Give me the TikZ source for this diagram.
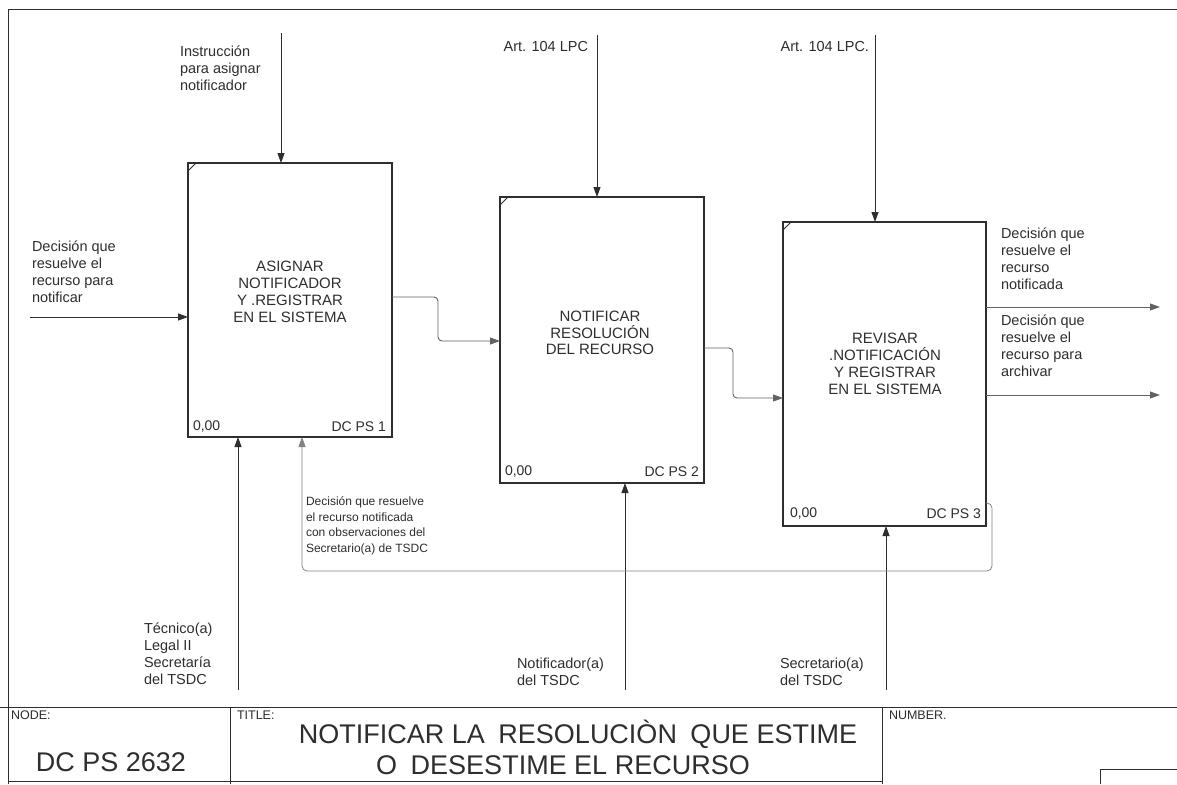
\documentclass[tikz,border=0pt]{standalone}
\usepackage{fontspec}
\setmainfont{Liberation Sans}
\usetikzlibrary{arrows.meta}
\definecolor{ink}{HTML}{2E2E2E}
\begin{document}
\begin{tikzpicture}[x=1pt,y=-1pt,
  every node/.style={inner sep=0pt, outer sep=0pt, text=ink},
  boxst/.style={draw=ink, line width=1.7pt},
  arr/.style={draw=ink, line width=0.9pt, -{Triangle[length=10pt,width=7pt]}},
  flow/.style={arr, draw=ink!75, rounded corners=4pt},
  fback/.style={arr, draw=ink!60, line width=0.8pt, rounded corners=5pt},
  lbl/.style={font=\fontsize{14.5}{17}\selectfont, align=left, anchor=north west},
  lblr/.style={font=\fontsize{14.5}{17}\selectfont, align=left, anchor=north east},
  fbl/.style={font=\fontsize{12}{15.4}\selectfont, align=left, anchor=north west},
  btxt/.style={font=\fontsize{15}{16.8}\selectfont, align=center},
  cnr/.style={font=\fontsize{14}{16}\selectfont},
  frm/.style={draw=ink, line width=1pt},
  small/.style={font=\fontsize{12.5}{14}\selectfont, anchor=north west},
  big/.style={font=\fontsize{27}{31}\selectfont}
]
\fill[white] (0,0) rectangle (1177,784);
\useasboundingbox (0,0) rectangle (1177,784);

% frame and title block
\draw[frm] (8,784) -- (8,10) -- (1177,10);
\draw[frm] (0,707) -- (1177,707);
\draw[frm] (230,707) -- (230,784);
\draw[frm] (882,707) -- (882,784);
\draw[frm] (8,781) -- (882,781);
\draw[frm] (1100,784) -- (1100,769) -- (1177,769);
\node[small] (tnode) at (11,711) {NODE:};
\node[big] (tnum) at (111,762) {DC PS 2632};
\node[small] (ttitle) at (237,711) {TITLE:};
\node[big] (tl1) at (578,734) {NOTIFICAR LA\hspace{0.5em}RESOLUCIÒN\hspace{0.5em}QUE ESTIME};
\node[big] (tl2) at (563,765) {O\hspace{0.5em}DESESTIME EL RECURSO};
\node[small] (tnumber) at (889,711) {NUMBER.};

% boxes
\node[boxst, minimum width=204pt, minimum height=274pt] (b1) at (290,300) {};
\node[boxst, minimum width=204pt, minimum height=286pt] (b2) at (602,340) {};
\node[boxst, minimum width=203pt, minimum height=304pt] (b3) at (884.5,374) {};
\foreach \b in {b1,b2,b3}{
  \draw[ink, line width=1pt] ([yshift=-8pt]\b.north west) -- ([xshift=8pt]\b.north west);
}
\node[btxt] (t1) at (290,292) {ASIGNAR\\NOTIFICADOR\\Y .REGISTRAR\\EN EL SISTEMA};
\node[btxt] (t2) at (600,333) {NOTIFICAR\\RESOLUCIÓN\\DEL RECURSO};
\node[btxt] (t3) at (885,364) {REVISAR\\.NOTIFICACIÓN\\Y REGISTRAR\\EN EL SISTEMA};

\node[cnr, anchor=west] (z1) at (193,427) {0,00};
\node[cnr, anchor=east] (d1) at (386,427) {DC PS 1};
\node[cnr, anchor=west] (z2) at (505,472) {0,00};
\node[cnr, anchor=east] (d2) at (699,472) {DC PS 2};
\node[cnr, anchor=west] (z3) at (790,514) {0,00};
\node[cnr, anchor=east] (d3) at (981,514) {DC PS 3};

% coordinates
\coordinate (i1) at (30,317);
\coordinate (c1) at (281,33);
\coordinate (c2) at (597,35);
\coordinate (c3) at (875,35);
\coordinate (m1) at (238,690);
\coordinate (m2) at (625,690);
\coordinate (m3) at (886,690);
\coordinate (k1) at (438,297);
\coordinate (k2) at (438,341);
\coordinate (k3) at (733,348);
\coordinate (k4) at (733,398);
\coordinate (o1) at (1160,307);
\coordinate (o2) at (1160,395);
\coordinate (f0) at (992,503);
\coordinate (f1) at (992,571);
\coordinate (f2) at (302,571);

% connectors
\draw[arr] (i1) -- (i1 -| b1.west);
\draw[arr] (c1) -- (c1 |- b1.north);
\draw[arr] (c2) -- (c2 |- b2.north);
\draw[arr] (c3) -- (c3 |- b3.north);
\draw[arr] (m1) -- (m1 |- b1.south);
\draw[arr] (m2) -- (m2 |- b2.south);
\draw[arr] (m3) -- (m3 |- b3.south);
\draw[flow] (b1.east |- k1) -- (k1) -- (k2) -- (k2 -| b2.west);
\draw[flow] (b2.east |- k3) -- (k3) -- (k4) -- (k4 -| b3.west);
\draw[flow] (o1 -| b3.east) -- (o1);
\draw[flow] (o2 -| b3.east) -- (o2);
\draw[fback] (b3.east |- f0) -- (f0) -- (f1) -- (f2) -- (f2 |- b1.south);

% labels
\node[lbl] (li1) at (32,241) {Decisión que\\resuelve el\\recurso para\\notificar};
\node[lbl] (lc1) at (180,46) {Instrucción\\para asignar\\notificador};
\node[lblr] (lc2) at (588,41) {Art. 104 LPC};
\node[lblr] (lc3) at (869,41) {Art. 104 LPC.};
\node[lbl] (lm1) at (144,623) {Técnico(a)\\Legal II\\Secretaría\\del TSDC};
\node[lbl] (lm2) at (517,658) {Notificador(a)\\del TSDC};
\node[lbl] (lm3) at (780,658) {Secretario(a)\\del TSDC};
\node[lbl] (lo1) at (1001,228) {Decisión que\\resuelve el\\recurso\\notificada};
\node[lbl] (lo2) at (1001,315) {Decisión que\\resuelve el\\recurso para\\archivar};
\node[fbl] (lfb) at (306,497) {Decisión que resuelve\\el recurso notificada\\con observaciones del\\Secretario(a) de TSDC};
\end{tikzpicture}
\end{document}
